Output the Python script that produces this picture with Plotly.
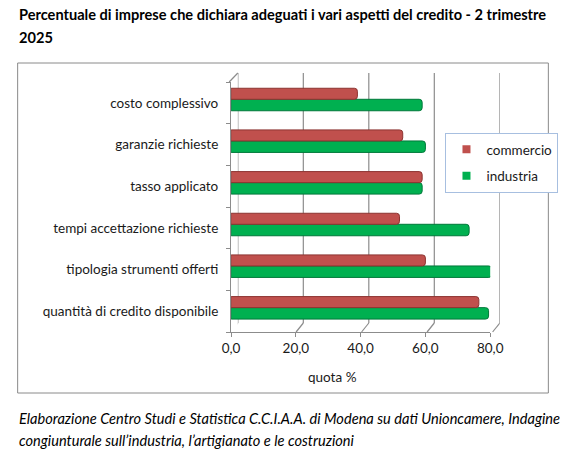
import plotly.graph_objects as go

# data, listed bottom -> top
categories = ['quantità di credito disponibile', 'tipologia strumenti offerti',
              'tempi accettazione richieste', 'tasso applicato',
              'garanzie richieste', 'costo complessivo']
commercio = [76.5, 60.0, 52.0, 59.0, 53.0, 39.0]
industria = [79.5, 80.5, 73.5, 59.0, 60.0, 59.0]
x_ticks = [0, 20, 40, 60, 80]

W, H = 570, 461
FONT = 'Lato'
RED, GREEN = '#c0504d', '#00b050'
GREY = '#8c8c8c'


def px(x):
    return x / W


def py(y):
    return 1 - y / H


fig = go.Figure()

# back wall subplot (grid only), drawn first so bars sit on top
fig.add_trace(go.Scatter(x=[None], y=[None], xaxis='x', yaxis='y',
                         showlegend=False, hoverinfo='skip'))

fig.add_trace(go.Bar(
    name='industria', y=categories, x=industria, orientation='h',
    xaxis='x2', yaxis='y2', offset=-0.19, width=0.275, showlegend=False,
    marker={'color': GREEN, 'line': {'color': '#00783a', 'width': 1},
            'cornerradius': 3}
))
fig.add_trace(go.Bar(
    name='commercio', y=categories, x=commercio, orientation='h',
    xaxis='x2', yaxis='y2', offset=0.085, width=0.265, showlegend=False,
    marker={'color': RED, 'line': {'color': '#8c3431', 'width': 1},
            'cornerradius': 3}
))

# legend entries with small square keys
for name, col in [('commercio', RED), ('industria', GREEN)]:
    fig.add_trace(go.Scatter(x=[None], y=[None], xaxis='x2', yaxis='y2',
                             mode='markers', name=name, legendgroup=name,
                             marker={'symbol': 'square', 'size': 8, 'color': col}))

shapes = []
# outer frame
shapes.append(dict(type='rect', xref='paper', yref='paper',
                   x0=px(9), x1=px(561), y0=py(63), y1=py(393),
                   line={'color': '#8a8a8a', 'width': 1}))
# left wall top diagonal
shapes.append(dict(type='line', xref='paper', yref='paper',
                   x0=px(229), y0=py(82), x1=px(238), y1=py(73),
                   line={'color': GREY, 'width': 1.2}))
for v in x_ticks:
    # back wall gridlines
    shapes.append(dict(type='line', xref='x', yref='paper', layer='below',
                       x0=v, y0=py(323), x1=v, y1=py(73),
                       line={'color': GREY, 'width': 1.2}))
    # floor diagonals at each tick
    shapes.append(dict(type='line', xref='x', yref='paper', layer='below',
                       x0=v - 2.2, y0=py(332), x1=v, y1=py(323),
                       line={'color': GREY, 'width': 1.2}))

fig.update_layout(
    width=W, height=H,
    margin=dict(l=0, r=0, t=0, b=0),
    paper_bgcolor='white', plot_bgcolor='rgba(0,0,0,0)',
    barmode='overlay',
    separators=',.',
    font={'family': FONT, 'size': 13.5, 'color': '#1a1a1a'},
    xaxis=dict(domain=[px(238), px(510.5)], range=[0, 80], anchor='y',
               showgrid=False, showticklabels=False, zeroline=False,
               showline=False, ticks=''),
    yaxis=dict(domain=[py(323), py(73)], range=[0, 1], showgrid=False,
               showticklabels=False, zeroline=False, showline=False),
    xaxis2=dict(domain=[px(231), px(500.5)], range=[0, 80], anchor='y2',
                showgrid=False, zeroline=False, showline=True,
                linecolor=GREY, linewidth=1.2,
                tickvals=x_ticks, tickformat='.1f', ticks='outside',
                ticklen=4, tickcolor=GREY, tickwidth=1.2,
                tickfont={'size': 13.5, 'family': FONT}),
    yaxis2=dict(domain=[py(332), py(82)], anchor='x2', type='category',
                range=[-0.5, 5.5], showgrid=False, zeroline=False,
                showline=True, linecolor=GREY, linewidth=1.2,
                ticks='outside', tickson='boundaries', ticklen=4,
                tickcolor=GREY, tickwidth=1.2, ticklabelstandoff=9,
                tickfont={'size': 13.5, 'family': FONT}),
    legend=dict(x=px(454), y=py(133), xanchor='left', yanchor='top',
                bgcolor='white', bordercolor='#a7bfe0', borderwidth=1,
                font={'size': 13.5, 'family': FONT}, traceorder='grouped',
                tracegroupgap=6, itemwidth=30),
    shapes=shapes,
    annotations=[
        dict(text='<b>Percentuale di imprese che dichiara adeguati i vari aspetti del credito - 2 trimestre</b>',
             xref='paper', yref='paper', x=px(8), y=py(14), xanchor='left',
             yanchor='middle', showarrow=False,
             font={'size': 14.6, 'family': FONT, 'color': '#000'}),
        dict(text='<b>2025</b>', xref='paper', yref='paper', x=px(8), y=py(37),
             xanchor='left', yanchor='middle', showarrow=False,
             font={'size': 14.6, 'family': FONT, 'color': '#000'}),
        dict(text='quota %', xref='paper', yref='paper', x=px(337), y=py(377),
             xanchor='center', yanchor='middle', showarrow=False,
             font={'size': 13.5, 'family': FONT}),
        dict(text='<i>Elaborazione Centro Studi e Statistica C.C.I.A.A. di Modena su dati Unioncamere, Indagine</i>',
             xref='paper', yref='paper', x=px(8), y=py(418), xanchor='left',
             yanchor='middle', showarrow=False,
             font={'size': 14.6, 'family': FONT, 'color': '#000'}),
        dict(text='<i>congiunturale sull’industria, l’artigianato e le costruzioni</i>',
             xref='paper', yref='paper', x=px(8), y=py(440), xanchor='left',
             yanchor='middle', showarrow=False,
             font={'size': 14.6, 'family': FONT, 'color': '#000'}),
    ],
)

fig.write_html('out.html', config={'displayModeBar': False},
               post_script="document.body.style.margin='0px';")
